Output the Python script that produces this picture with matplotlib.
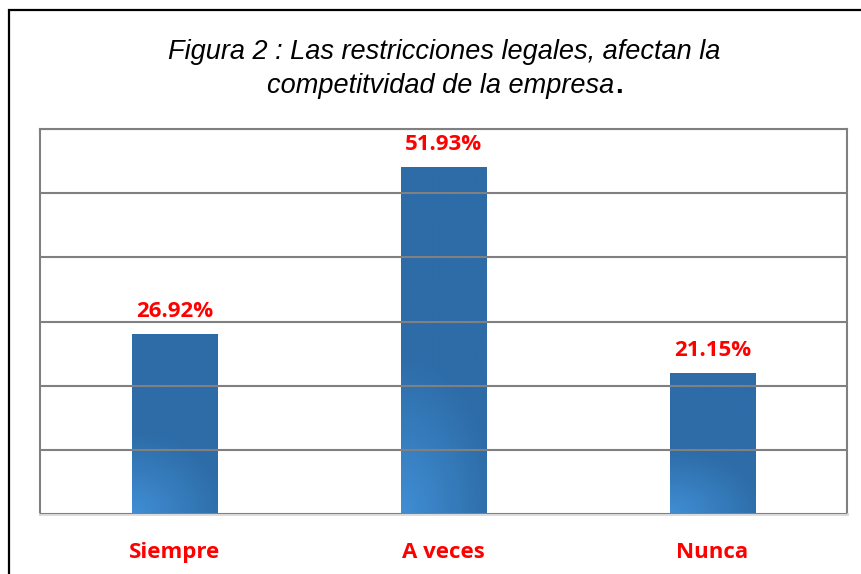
import numpy as np
import matplotlib.pyplot as plt
from matplotlib.patches import Rectangle

categories = ["Siempre", "A veces", "Nunca"]
values = [26.92, 51.93, 21.15]
value_labels = ["26.92%", "51.93%", "21.15%"]

W, H = 862, 574
fig = plt.figure(figsize=(W / 100, H / 100), dpi=100)

# outer frame (cut off at right and bottom in the reference)
fig.patches.append(Rectangle((9 / W, -0.1), 1.2, 1 - 10 / H + 0.1,
                             transform=fig.transFigure, fill=False,
                             edgecolor="black", linewidth=1.6))

fig.text(444 / W, 1 - 52 / H, "Figura 2 : Las restricciones legales, afectan la",
         ha="center", va="center", fontsize=19.5, style="italic",
         family="Liberation Sans")
t2 = fig.text(441 / W, 1 - 86 / H, "competitvidad de la empresa",
              ha="center", va="center", fontsize=19.5, style="italic",
              family="Liberation Sans")
fig.canvas.draw()
bb = t2.get_window_extent()
fig.text(bb.x1 / W + 1 / W, 1 - 86 / H, ".", ha="left", va="center", fontsize=19.5,
         weight="bold", family="Liberation Sans")

ax = fig.add_axes([40 / W, 60 / H, 807 / W, 385 / H])
ymax = 57.6
ax.set_xlim(-0.5, 2.5)
ax.set_ylim(0, ymax)
ax.set_yticks(np.linspace(0, ymax, 7))
ax.yaxis.grid(True, color="#808080", linewidth=1.5)
ax.set_axisbelow(False)
ax.tick_params(axis="y", left=False, labelleft=False)
ax.tick_params(axis="x", bottom=False, labelsize=16, labelcolor="#ff0000", pad=17)
for s in ["left", "right", "top"]:
    ax.spines[s].set_color("#808080")
    ax.spines[s].set_linewidth(1.5)
ax.spines["bottom"].set_color("#d9d9d9")
ax.spines["bottom"].set_linewidth(2)

x = np.arange(len(categories))
bw = 0.316
bars = ax.bar(x, values, width=bw, color="#2d6ca7", zorder=1)

# soft light gradient at lower-left of each bar
gy, gx = np.mgrid[0:1:200j, 0:1:100j]
d = np.sqrt((gx * 0.9) ** 2 + ((1 - gy) * 2.2) ** 2)
t = np.clip(1 - d, 0, 1)
c0 = np.array([0x2d, 0x6c, 0xa7]) / 255
c1 = np.array([0x40, 0x8e, 0xd4]) / 255
img = c0 + (c1 - c0) * t[..., None]
for b in bars:
    im = ax.imshow(img, extent=[b.get_x(), b.get_x() + b.get_width(), 0, b.get_height()],
                   aspect="auto", origin="upper", zorder=1.5)
    im.set_clip_path(b)
ax.set_xlim(-0.5, 2.5)
ax.set_ylim(0, ymax)

for xi, v, lab in zip(x, values, value_labels):
    ax.annotate(lab, (xi, v), xytext=(0, 12), textcoords="offset pixels",
                ha="center", va="bottom", color="#ff0000",
                fontsize=16, weight="bold", family="Open Sans", zorder=3)

ax.set_xticks(x)
ax.set_xticklabels(categories, weight="bold", family="Open Sans")

fig.savefig("out.png", dpi=100)
